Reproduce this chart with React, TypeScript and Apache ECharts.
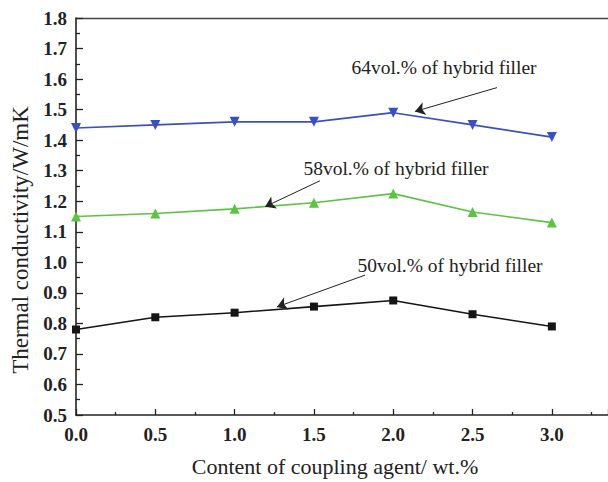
import React, { useEffect, useRef } from "react";
import * as echarts from "echarts";

const xValues = [0.0, 0.5, 1.0, 1.5, 2.0, 2.5, 3.0];
const vol64 = [1.44, 1.45, 1.46, 1.46, 1.49, 1.45, 1.41];
const vol58 = [1.15, 1.16, 1.175, 1.195, 1.225, 1.165, 1.13];
const vol50 = [0.78, 0.82, 0.835, 0.855, 0.875, 0.83, 0.79];

const labels = [
  "64vol.% of hybrid filler",
  "58vol.% of hybrid filler",
  "50vol.% of hybrid filler",
];
const xTitle = "Content of coupling agent/ wt.%";
const yTitle = "Thermal conductivity/W/mK";
// arrows in data coordinates: [fromX, fromY, toX, toY]
const arrow64 = [2.654, 1.572, 2.137, 1.494];
const arrow58 = [1.538, 1.267, 1.192, 1.182];
const arrow50 = [1.822, 0.958, 1.267, 0.854];

const FONT = "'Liberation Serif', 'Times New Roman', serif";

const pairs = (ys: number[]) => xValues.map((x, i) => [x, ys[i]]);

const arrowLine = (a: number[]) => ({
  silent: true,
  symbol: ["none", "arrow"],
  symbolSize: 10,
  label: { show: false },
  itemStyle: { color: "#222" },
  lineStyle: { color: "#222", width: 1, type: "solid" },
  emphasis: { disabled: true },
  data: [[{ coord: [a[0], a[1]] }, { coord: [a[2], a[3]] }]],
});

const annot = (text: string, x: number, y: number) => ({
  type: "text",
  x,
  y,
  style: {
    text,
    font: "19.5px 'Liberation Serif', serif",
    fill: "#222",
    align: "center",
    verticalAlign: "middle",
  },
});

export default function App() {
  const ref = useRef<HTMLDivElement>(null);
  useEffect(() => {
    if (!ref.current) return;
    const chart = echarts.init(ref.current, undefined, { renderer: "svg" });
    const tickLabel = {
      fontFamily: FONT,
      fontSize: 19,
      fontWeight: "bold",
      color: "#222",
    };
    chart.setOption({
      animation: false,
      backgroundColor: "#fff",
      grid: { left: 76, right: 0, top: 18, bottom: 64, containLabel: false },
      xAxis: [
        {
          type: "value",
          min: 0,
          max: 3.354,
          interval: 0.5,
          axisLine: { show: true, lineStyle: { color: "#222", width: 1.6 } },
          axisTick: { show: true, inside: true, length: 6, lineStyle: { color: "#222", width: 1.3 } },
          minorTick: { show: true, splitNumber: 2, length: 3, lineStyle: { color: "#222", width: 1.3 } },
          splitLine: { show: false },
          axisLabel: {
            ...tickLabel,
            margin: 10,
            showMaxLabel: false,
            formatter: (v: number) => (v > 3.01 ? "" : v.toFixed(1)),
          },
          name: xTitle,
          nameLocation: "middle",
          nameGap: 40,
          nameTextStyle: { fontFamily: FONT, fontSize: 22, color: "#222", padding: [0, 14, 0, 0] },
        },
        {
          type: "value",
          position: "top",
          min: 0,
          max: 3.354,
          axisLine: { show: true, onZero: false, lineStyle: { color: "#444", width: 1.3 } },
          axisTick: { show: false },
          axisLabel: { show: false },
          splitLine: { show: false },
        },
      ],
      yAxis: {
        type: "value",
        min: 0.5,
        max: 1.8,
        interval: 0.1,
        axisLine: { show: true, lineStyle: { color: "#222", width: 1.6 } },
        axisTick: { show: true, inside: true, length: 7, lineStyle: { color: "#222", width: 1.3 } },
        minorTick: { show: true, splitNumber: 2, length: 4, lineStyle: { color: "#222", width: 1.3 } },
        splitLine: { show: false },
        axisLabel: {
          ...tickLabel,
          margin: 9,
          formatter: (v: number) => v.toFixed(1),
        },
      },
      series: [
        {
          type: "line",
          name: labels[0],
          data: pairs(vol64),
          symbol: "triangle",
          symbolRotate: 180,
          symbolSize: 10,
          lineStyle: { color: "#3a4fc2", width: 1.6 },
          itemStyle: { color: "#3a4fc2" },
          markLine: arrowLine(arrow64),
          z: 3,
        },
        {
          type: "line",
          name: labels[1],
          data: pairs(vol58),
          symbol: "triangle",
          symbolSize: 10,
          lineStyle: { color: "#5cc343", width: 1.6 },
          itemStyle: { color: "#5cc343" },
          markLine: arrowLine(arrow58),
          z: 3,
        },
        {
          type: "line",
          name: labels[2],
          data: pairs(vol50),
          symbol: "rect",
          symbolSize: 8,
          lineStyle: { color: "#151515", width: 1.6 },
          itemStyle: { color: "#151515" },
          markLine: arrowLine(arrow50),
          z: 3,
        },
      ],
      graphic: [
        annot(labels[0], 444, 67),
        annot(labels[1], 396, 168),
        annot(labels[2], 450, 265),
        {
          type: "text",
          x: 20,
          y: 240,
          rotation: Math.PI / 2,
          style: {
            text: yTitle,
            font: "23px 'Liberation Serif', serif",
            fill: "#222",
            align: "center",
            verticalAlign: "middle",
          },
        },
      ],
    });
    return () => chart.dispose();
  }, []);
  return (
    <div
      ref={ref}
      style={{ position: "fixed", left: 0, top: 0, width: 608, height: 482, background: "#fff" }}
    />
  );
}
